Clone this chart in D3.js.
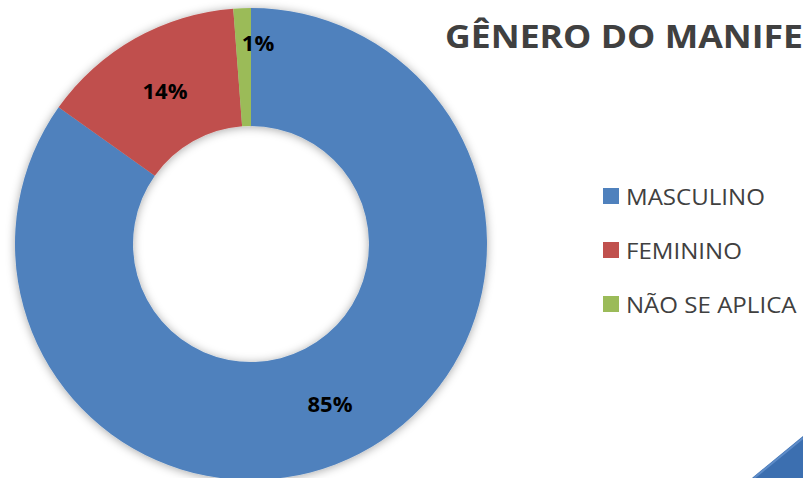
<!DOCTYPE html>
<html><head><meta charset="utf-8">
<script src="https://cdn.jsdelivr.net/npm/d3@7"></script>
<style>html,body{margin:0;padding:0;background:#fff;overflow:hidden}</style>
</head><body>
<svg id="c" width="803" height="478"></svg>
<script>
const categories = ["MASCULINO", "FEMININO", "NÃO SE APLICA"];
const values = [85, 14, 1.2];
const labels = ["85%", "14%", "1%"];
const colors = ["#4F81BD", "#C0504D", "#9BBB59"];
const title = "GÊNERO DO MANIFESTANTE";

const svg = d3.select("#c");
const defs = svg.append("defs");
const f = defs.append("filter").attr("id","sh").attr("x","-20%").attr("y","-20%").attr("width","140%").attr("height","140%");
f.append("feDropShadow").attr("dx",0).attr("dy",1).attr("stdDeviation",5).attr("flood-color","#000").attr("flood-opacity",0.35);

const cx = 251, cy = 244, R = 236, r = 118;
const pie = d3.pie().sort(null).value(d => d);
const arcs = pie(values);
const arc = d3.arc().innerRadius(r).outerRadius(R);
const g = svg.append("g").attr("transform", `translate(${cx},${cy})`);
g.append("g").attr("filter","url(#sh)").selectAll("path").data(arcs).join("path")
  .attr("d", arc).attr("fill", (d,i) => colors[i]);

const labelPos = [[79,159],[-86,-154],[7,-202]];
g.selectAll("text.l").data(arcs).join("text").attr("class","l")
  .attr("x",(d,i)=>labelPos[i][0]).attr("y",(d,i)=>labelPos[i][1])
  .attr("text-anchor","middle").attr("dominant-baseline","central")
  .attr("font-family","'Open Sans', sans-serif").attr("font-weight","bold").attr("font-size",22)
  .attr("fill","#000").text((d,i)=>labels[i]);

// title: fit "GÊNERO DO MANIFE" to reference span via horizontal scale
const tg = svg.append("g").attr("transform","translate(445,48)");
const t = tg.append("text").attr("x",0).attr("y",0)
  .attr("font-family","'Open Sans', sans-serif").attr("font-weight","bold").attr("font-size",32)
  .attr("fill","#404040").text("GÊNERO DO MANIFE");
const tw = t.node().getComputedTextLength();
t.attr("transform", `scale(${(358 / tw).toFixed(3)},1)`).text(title);

const leg = svg.append("g");
const ly = d3.scalePoint().domain(categories).range([196, 304]);
categories.forEach((c,i) => {
  leg.append("rect").attr("x",603).attr("y",ly(c)-8).attr("width",16).attr("height",16).attr("fill",colors[i]);
  leg.append("g").attr("transform",`translate(626,${ly(c)})`)
    .append("text").attr("class","lt").attr("dominant-baseline","central")
    .attr("font-family","'Open Sans', sans-serif").attr("font-size",22.5).attr("fill","#404040").text(c);
});
const mw = leg.select("text.lt").node().getComputedTextLength();
leg.selectAll("text.lt").attr("transform", `scale(${(139 / mw).toFixed(3)},1)`);

svg.append("polygon").attr("points","752,478 803,436 803,478").attr("fill","#3C6FB0");
svg.append("polyline").attr("points","754,478 803,438").attr("stroke","#5E8CC8").attr("stroke-width",2).attr("fill","none");
</script>
</body></html>
